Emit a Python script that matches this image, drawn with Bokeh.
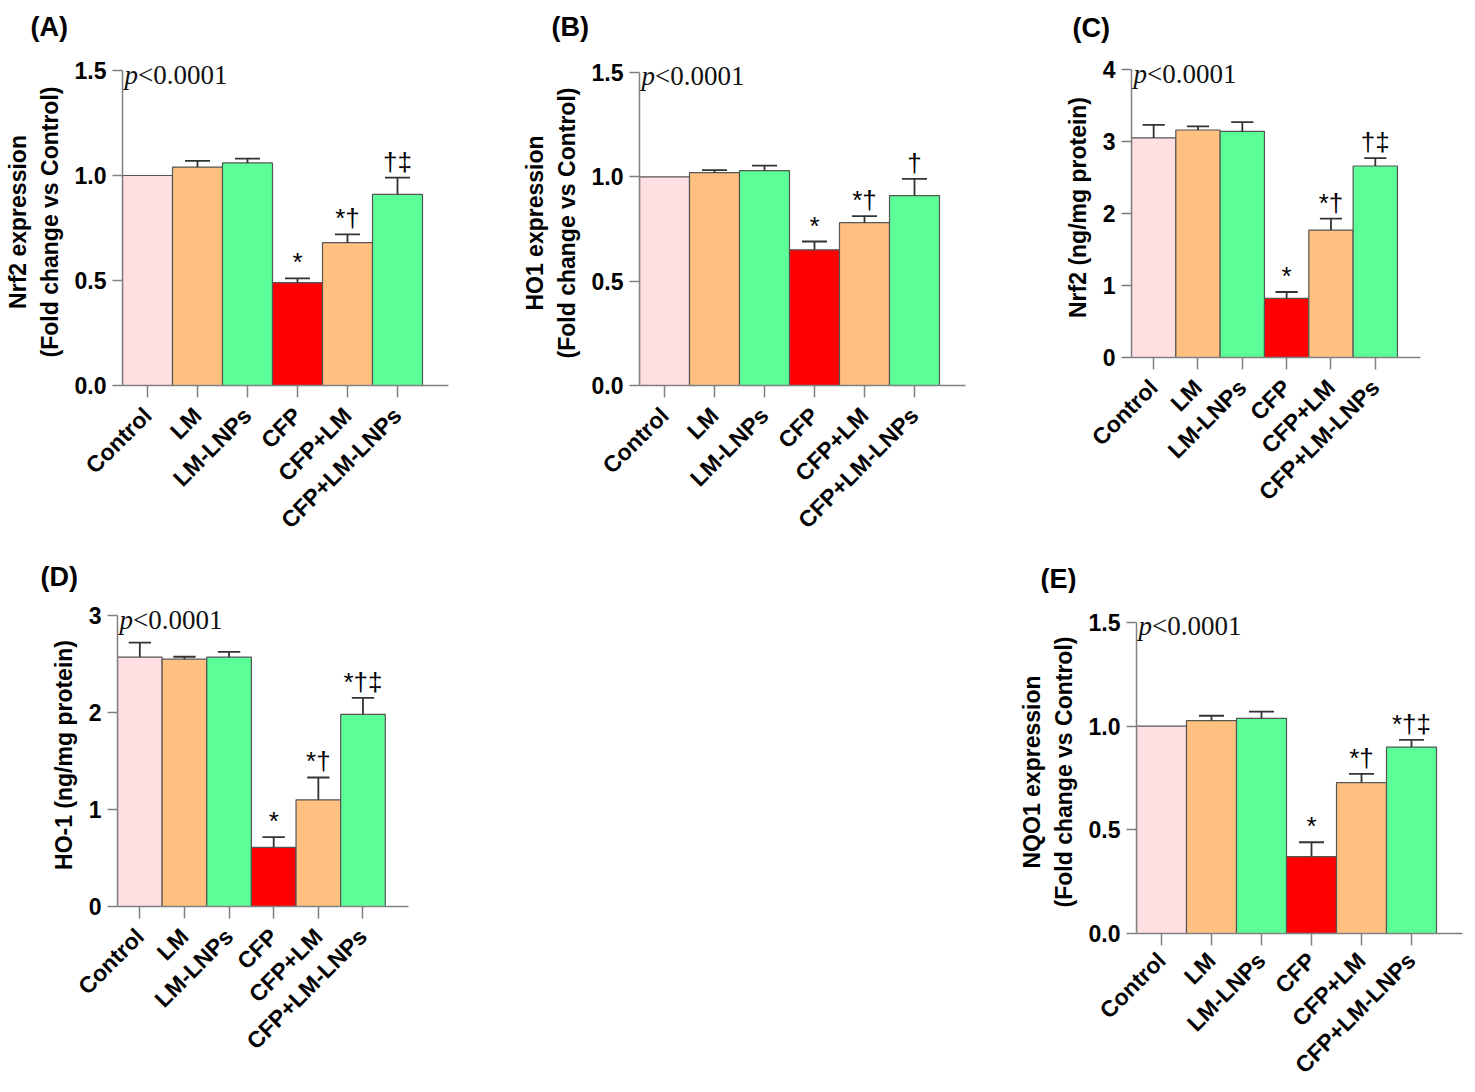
import math
from bokeh.plotting import figure
from bokeh.models import Range1d, FixedTicker, NumeralTickFormatter, Label, ColumnDataSource, Spacer
from bokeh.layouts import row, column
from bokeh.embed import file_html
from bokeh.resources import INLINE
from bokeh.core.properties import value

# ---------------- data ----------------
groups = ["Control", "LM", "LM-LNPs", "CFP", "CFP+LM", "CFP+LM-LNPs"]
bar_colors = ["#FFDFE1", "#FFC080", "#5CFF97", "#FF0000", "#FFC080", "#5CFF97"]

a_mean = [1.00, 1.04, 1.06, 0.49, 0.68, 0.91]
a_err = [0.00, 0.03, 0.02, 0.02, 0.04, 0.08]
a_sig = ["", "", "", "*", "*†", "†‡"]

b_mean = [1.00, 1.02, 1.03, 0.65, 0.78, 0.91]
b_err = [0.00, 0.012, 0.024, 0.04, 0.032, 0.08]
b_sig = ["", "", "", "*", "*†", "†"]

c_mean = [3.05, 3.16, 3.14, 0.82, 1.77, 2.66]
c_err = [0.18, 0.05, 0.13, 0.09, 0.16, 0.11]
c_sig = ["", "", "", "*", "*†", "†‡"]

d_mean = [2.57, 2.55, 2.57, 0.61, 1.10, 1.98]
d_err = [0.15, 0.025, 0.055, 0.105, 0.23, 0.17]
d_sig = ["", "", "", "*", "*†", "*†‡"]

e_mean = [1.00, 1.027, 1.037, 0.371, 0.728, 0.899]
e_err = [0.00, 0.023, 0.033, 0.069, 0.042, 0.035]
e_sig = ["", "", "", "*", "*†", "*†‡"]

p_text = "<0.0001"

SANS = "Liberation Sans"
SERIF = "Liberation Serif"
AXIS_GRAY = "#808080"
LETTER_H = 48   # height of the strip holding the panel letters
EXTRA = 12      # extra frame pixels above the top tick (room for p-value text)


def letter_strip(letter, width, lx, ly):
    s = figure(width=width, height=LETTER_H, output_backend="svg", toolbar_location=None,
               x_range=Range1d(0, width), y_range=Range1d(LETTER_H, 0),
               x_axis_type=None, y_axis_type=None,
               min_border_left=0, min_border_right=0, min_border_top=0, min_border_bottom=0,
               outline_line_color=None, background_fill_color="white", border_fill_color="white",
               frame_align=False)
    s.xgrid.visible = False
    s.ygrid.visible = False
    s.text(x=[lx], y=[ly], text=[letter], text_align="left", text_baseline="middle",
           text_font=value(SANS), text_font_style="bold", text_font_size="27px", text_color="black")
    return s


def panel(letter, mean, err, sig, ylab, ymax, yticks, yfmt,
          width, row_h, bl, bt, fw, fh, lx, ly, xstand=14):
    height = row_h - LETTER_H
    top_b = bt - LETTER_H - EXTRA
    fh_tot = fh + EXTRA
    br = width - bl - fw
    bb = height - top_b - fh_tot
    y_end = ymax * fh_tot / fh
    p = figure(width=width, height=height, output_backend="svg", toolbar_location=None,
               x_range=Range1d(0, 6.52), y_range=Range1d(0, y_end),
               min_border_left=bl, min_border_right=br, min_border_top=top_b, min_border_bottom=bb,
               outline_line_color=None, background_fill_color="white", border_fill_color="white",
               frame_align=False)
    p.xgrid.visible = False
    p.ygrid.visible = False

    xs = [i + 0.5 for i in range(len(groups))]
    src = ColumnDataSource(dict(x=xs, top=mean, color=bar_colors, label=sig,
                                tip=[m + e for m, e in zip(mean, err)]))
    p.vbar(x="x", top="top", bottom=0, width=1.0, fill_color="color", line_color="#555555",
           line_width=1.2, source=src)

    ex = [x for x, e in zip(xs, err) if e > 0]
    em = [m for m, e in zip(mean, err) if e > 0]
    ee = [m + e for m, e in zip(mean, err) if e > 0]
    esrc = ColumnDataSource(dict(x=ex, y0=em, y1=ee, xl=[x - 0.25 for x in ex], xr=[x + 0.25 for x in ex]))
    p.segment(x0="x", y0="y0", x1="x", y1="y1", line_color="#333333", line_width=1.8, source=esrc)
    p.segment(x0="xl", y0="y1", x1="xr", y1="y1", line_color="#333333", line_width=1.8, source=esrc)

    p.text(x="x", y="tip", text="label", source=src, text_align="center", text_baseline="bottom",
           text_font=value(SANS), text_font_size="26px", text_color="black", y_offset=-1)

    # p-value
    p.add_layout(Label(x=0, y=ymax, text="p", text_font=SERIF, text_font_style="italic",
                       text_font_size="27px", text_baseline="alphabetic", x_offset=2, y_offset=-4,
                       text_color="#111111"))
    p.add_layout(Label(x=0, y=ymax, text=p_text, text_font=SERIF,
                       text_font_size="27px", text_baseline="alphabetic", x_offset=15.5, y_offset=-4,
                       text_color="#111111"))

    # axes
    xa = p.xaxis[0]
    xa.ticker = FixedTicker(ticks=xs)
    xa.major_label_overrides = {x: g for x, g in zip(xs, groups)}
    xa.major_label_orientation = math.pi / 4
    xa.major_label_text_font = SANS
    xa.major_label_text_font_style = "bold"
    xa.major_label_text_font_size = "23px"
    xa.major_label_text_color = "black"
    xa.major_label_standoff = xstand
    xa.minor_tick_line_color = None
    xa.major_tick_in = 0
    xa.major_tick_out = 12
    xa.axis_line_color = AXIS_GRAY
    xa.major_tick_line_color = AXIS_GRAY
    xa.axis_line_width = 1.5
    xa.major_tick_line_width = 1.5

    ya = p.yaxis[0]
    ya.bounds = (0, ymax)
    ya.ticker = FixedTicker(ticks=yticks)
    ya.formatter = NumeralTickFormatter(format=yfmt)
    ya.major_label_text_font = SANS
    ya.major_label_text_font_style = "bold"
    ya.major_label_text_font_size = "23px"
    ya.major_label_text_color = "black"
    ya.major_label_standoff = 6
    ya.minor_tick_line_color = None
    ya.major_tick_in = 0
    ya.major_tick_out = 10
    ya.axis_line_color = AXIS_GRAY
    ya.major_tick_line_color = AXIS_GRAY
    ya.axis_line_width = 1.5
    ya.major_tick_line_width = 1.5
    ya.axis_label = ylab
    ya.axis_label_text_font = SANS
    ya.axis_label_text_font_style = "bold"
    ya.axis_label_text_font_size = "23px"
    ya.axis_label_text_color = "black"
    ya.axis_label_standoff = 9

    return column(letter_strip(letter, width, lx, ly), p)


pa = panel("(A)", a_mean, a_err, a_sig, "Nrf2 expression\n(Fold change vs Control)", 1.5,
           [0, 0.5, 1.0, 1.5], "0.0", 470, 545, 122, 70, 326, 315, 30, 26)
pb = panel("(B)", b_mean, b_err, b_sig, "HO1 expression\n(Fold change vs Control)", 1.5,
           [0, 0.5, 1.0, 1.5], "0.0", 520, 545, 169, 72, 326, 314, 81, 26)
pc = panel("(C)", c_mean, c_err, c_sig, "Nrf2 (ng/mg protein)", 4,
           [0, 1, 2, 3, 4], "0", 470, 545, 141, 69, 289, 288, 82, 27)
pd_ = panel("(D)", d_mean, d_err, d_sig, "HO-1 (ng/mg protein)", 3,
            [0, 1, 2, 3], "0", 440, 545, 117, 70, 291, 291, 40, 31)
pe = panel("(E)", e_mean, e_err, e_sig, "NQO1 expression\n(Fold change vs Control)", 1.5,
           [0, 0.5, 1.0, 1.5], "0.0", 470, 545, 136, 77, 326, 312, 40, 33, xstand=11)

layout = column(row(pa, pb, pc), row(pd_, Spacer(width=560, height=10), pe))

open("out.html", "w").write(file_html(layout, INLINE))
